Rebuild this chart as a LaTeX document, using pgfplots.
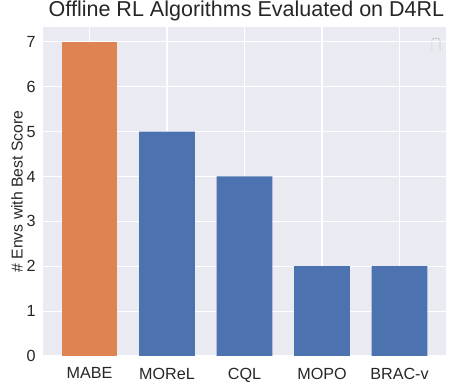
\documentclass[border=0pt]{standalone}
\usepackage{fontspec}
\setmainfont{Liberation Sans}
\usepackage{pgfplots}
\pgfplotsset{compat=1.18}
\definecolor{sbblue}{RGB}{76,114,176}
\definecolor{sborange}{RGB}{221,132,82}
\definecolor{sbbg}{RGB}{234,234,242}
\definecolor{txt}{RGB}{38,38,38}
\begin{document}
\begin{tikzpicture}
\path[use as bounding box] (-43bp,-26bp) rectangle (413bp,356bp);
\begin{axis}[
  at={(0,0)}, anchor=south west,
  scale only axis, width=403bp, height=329bp,
  xmin=-0.6, xmax=4.6, ymin=0, ymax=7.33,
  xtick={0,1,2,3,4},
  xticklabels={MABE,MOReL,CQL,MOPO,BRAC-v},
  ytick={0,1,2,3,4,5,6,7},
  axis background/.style={fill=sbbg},
  axis line style={draw=none},
  grid=major, major grid style={white, line width=1.2bp},
  tick style={draw=none},
  ticklabel style={font=\fontsize{16.2}{19}\selectfont, text=txt},
  xticklabel style={yshift=-4bp},
  yticklabel style={xshift=-4bp},
  /pgf/number format/assume math mode=true,
  ylabel={\# Envs with Best Score},
  ylabel style={font=\fontsize{15.8}{18}\selectfont, text=txt, yshift=-3bp},
  title={Offline RL Algorithms Evaluated on D4RL},
  title style={font=\fontsize{21.6}{25}\selectfont, text=txt, yshift=-3bp, xshift=2bp},
  ybar, bar width=0.72, bar shift=0pt,
]
\addplot[fill=sborange, draw=none] coordinates {(0,7)};
\addplot[fill=sbblue, draw=none] coordinates {(1,5) (2,4) (3,2) (4,2)};
\draw[densely dotted, gray!70, rounded corners=1.5bp, line width=0.7bp]
  (rel axis cs:0.965,0.93) -- (rel axis cs:0.965,0.965) -- (rel axis cs:0.985,0.965) -- (rel axis cs:0.985,0.93);
\end{axis}
\end{tikzpicture}
\end{document}
